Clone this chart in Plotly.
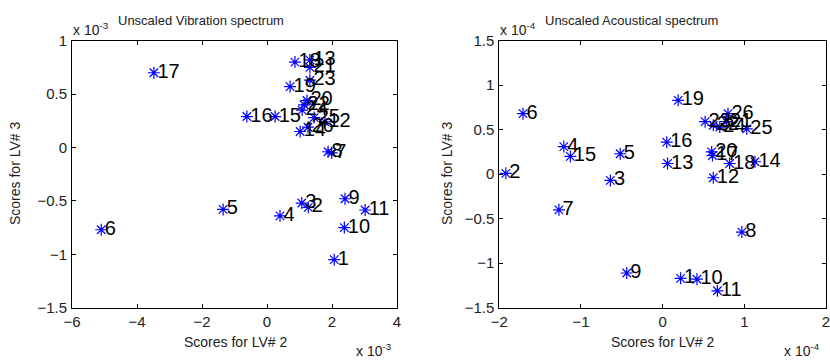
import plotly.graph_objects as go

# ---- data (x in units of 1e-3 / 1e-4 as shown by the axis exponent) ----
vib_labels = ["1","2","3","4","5","6","7","8","9","10","11","12","13","14","15","16","17",
              "18","19","20","21","22","23","24","25","26"]
vib_x = [2.07, 1.27, 1.07, 0.40, -1.35, -5.10, 1.99, 1.88, 2.40, 2.38, 3.02, 1.78, 1.32, 1.02, 0.25, -0.62, -3.48,
         0.86, 0.71, 1.23, 1.32, 1.14, 1.32, 1.08, 1.45, 1.26]
vib_y = [-1.05, -0.56, -0.52, -0.64, -0.58, -0.77, -0.05, -0.04, -0.48, -0.75, -0.585, 0.24, 0.82, 0.15, 0.29, 0.29, 0.70,
         0.80, 0.57, 0.44, 0.75, 0.40, 0.63, 0.35, 0.28, 0.19]

aco_labels = ["1","2","3","4","5","6","7","8","9","10","11","12","13","14","15","16","17",
              "18","19","20","21","22","23","24","25","26"]
aco_x = [0.22, -1.92, -0.64, -1.21, -0.52, -1.71, -1.27, 0.97, -0.44, 0.42, 0.67, 0.62, 0.06, 1.13, -1.13, 0.05, 0.61,
         0.82, 0.19, 0.60, 0.78, 0.62, 0.52, 0.70, 1.03, 0.80]
aco_y = [-1.17, 0.01, -0.07, 0.31, 0.23, 0.68, -0.40, -0.65, -1.11, -1.18, -1.31, -0.04, 0.12, 0.14, 0.20, 0.36, 0.21,
         0.12, 0.83, 0.25, 0.59, 0.55, 0.59, 0.53, 0.51, 0.68]

vib_xticks = [-6, -4, -2, 0, 2, 4]
vib_yticks = [-1.5, -1, -0.5, 0, 0.5, 1]
aco_xticks = [-2, -1, 0, 1, 2]
aco_yticks = [-1.5, -1, -0.5, 0, 0.5, 1, 1.5]

W, H = 830, 360
def px(x): return x / W
def py(y): return 1 - y / H

FONT = "Liberation Sans, Arial, sans-serif"
fig = go.Figure()

def add(xs, ys, labels, xa, ya):
    fig.add_trace(go.Scatter(
        x=xs, y=ys, mode="markers",
        marker=dict(symbol="asterisk-open", size=10, color="blue", line=dict(color="blue", width=1.2)),
        xaxis=xa, yaxis=ya, showlegend=False, cliponaxis=False, hoverinfo="skip"))
    fig.add_trace(go.Scatter(
        x=xs, y=ys, text=labels, mode="markers+text", textposition="middle right",
        marker=dict(size=4, opacity=0),
        textfont=dict(size=20, color="black", family=FONT),
        xaxis=xa, yaxis=ya, showlegend=False, cliponaxis=False, hoverinfo="skip"))

add(vib_x, vib_y, vib_labels, "x", "y")
add(aco_x, aco_y, aco_labels, "x2", "y2")

ax_common = dict(showgrid=False, zeroline=False, showline=True, linecolor="black", linewidth=1,
                 mirror="allticks", ticks="inside", ticklen=4, tickcolor="black",
                 automargin=False, ticklabeloverflow="allow",
                 tickfont=dict(size=15, color="#222", family=FONT))
xax = dict(ticklabelstandoff=0, **ax_common)
yax = dict(ticklabelstandoff=1, **ax_common)
ydom = [py(307.7), py(40.7)]
fig.update_layout(
    width=W, height=H, margin=dict(l=0, r=0, t=0, b=0, autoexpand=False),
    paper_bgcolor="white", plot_bgcolor="white",
    xaxis=dict(domain=[px(72), px(397)], range=[-6, 4], tickvals=vib_xticks, anchor="y", **xax),
    yaxis=dict(domain=ydom, range=[-1.5, 1], tickvals=vib_yticks, anchor="x", **yax),
    xaxis2=dict(domain=[px(499.3), px(826)], range=[-2, 2], tickvals=aco_xticks, anchor="y2", **xax),
    yaxis2=dict(domain=ydom, range=[-1.5, 1.5], tickvals=aco_yticks, anchor="x2", **yax),
)

def ann(x, y, text, size=13, xanchor="left", angle=0, yanchor="middle"):
    fig.add_annotation(x=px(x), y=py(y), xref="paper", yref="paper", text=text, showarrow=False,
                       xanchor=xanchor, yanchor=yanchor, textangle=angle, borderpad=0,
                       font=dict(size=size, color="#222", family=FONT))

# titles with exponent
ann(72, 29, "x 10<sup>-3</sup>", size=14)
ann(201, 20, "Unscaled Vibration spectrum", size=13, xanchor="center")
ann(499, 29, "x 10<sup>-4</sup>", size=14)
ann(631, 20, "Unscaled Acoustical spectrum", size=13, xanchor="center")
# axis titles
ann(235, 342, "Scores for LV# 2", size=14, xanchor="center")
ann(662, 342, "Scores for LV# 2", size=14, xanchor="center")
ann(15, 174, "Scores for LV# 3", size=14, xanchor="center", angle=-90)
ann(447, 174, "Scores for LV# 3", size=14, xanchor="center", angle=-90)
# bottom exponents
ann(355, 350, "x 10<sup>-3</sup>", size=14)
ann(783, 350, "x 10<sup>-4</sup>", size=14)

fig.write_html("out.html")
